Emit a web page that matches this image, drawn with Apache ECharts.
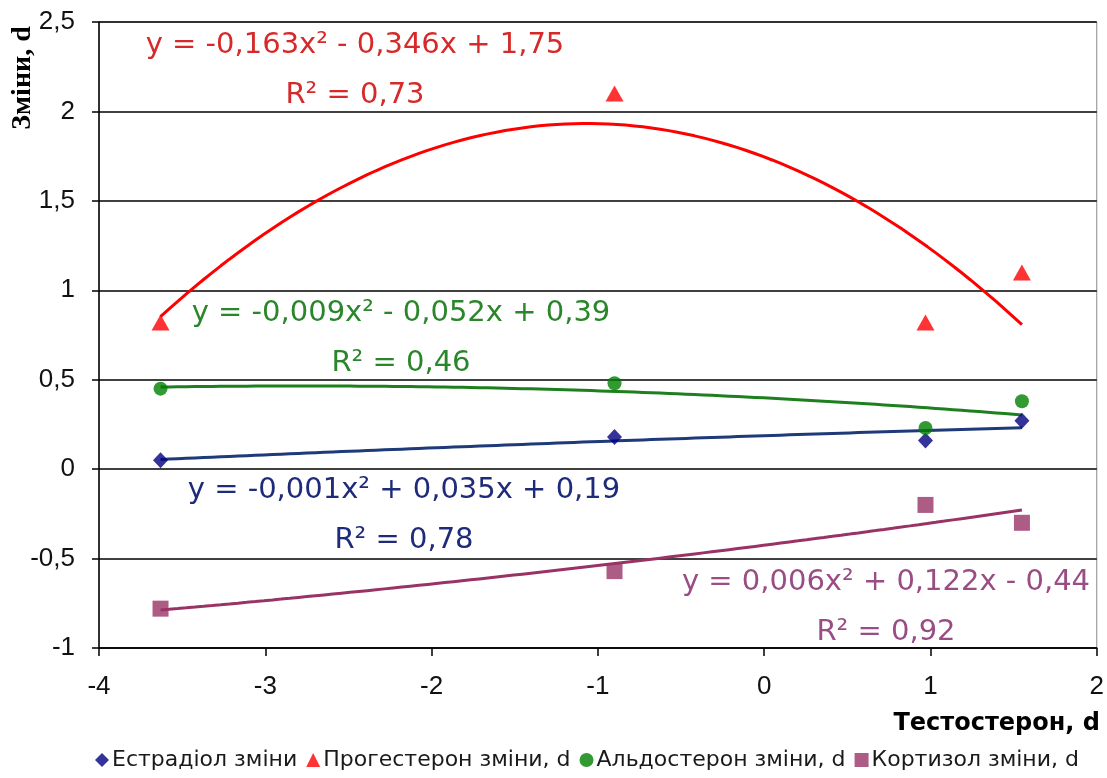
<!DOCTYPE html>
<html>
<head>
<meta charset="utf-8">
<script src="https://cdn.jsdelivr.net/npm/echarts@6/dist/echarts.min.js"></script>
<style>
html,body{margin:0;padding:0;background:#fff;}
#chart{width:1107px;height:778px;}
</style>
</head>
<body>
<div id="chart"></div>
<script>
// ---- data ----
const testosteron = [-3.63, -0.9, 0.97, 1.55];
const estradiol   = [0.05, 0.18, 0.16, 0.27];
const progesteron = [0.82, 2.1, 0.82, 1.1];
const aldosteron  = [0.45, 0.48, 0.23, 0.38];
const kortizol    = [-0.78, -0.57, -0.2, -0.3];

const seriesNames = ['Естрадіол зміни', 'Прогестерон зміни, d', 'Альдостерон зміни, d', 'Кортизол зміни, d'];
const equations = [
  ['y = -0,001x² + 0,035x + 0,19', 'R² = 0,78'],
  ['y = -0,163x² - 0,346x + 1,75', 'R² = 0,73'],
  ['y = -0,009x² - 0,052x + 0,39', 'R² = 0,46'],
  ['y = 0,006x² + 0,122x - 0,44', 'R² = 0,92']
];
const xAxisName = 'Тестостерон, d';
const yAxisName = 'Зміни, d';

// ---- least-squares quadratic fit (trend lines, as in the original) ----
function quadFit(xs, ys) {
  let n = xs.length, s1=0,s2=0,s3=0,s4=0,t0=0,t1=0,t2=0;
  for (let i=0;i<n;i++){const x=xs[i],y=ys[i];s1+=x;s2+=x*x;s3+=x*x*x;s4+=x*x*x*x;t0+=y;t1+=x*y;t2+=x*x*y;}
  const M=[[n,s1,s2,t0],[s1,s2,s3,t1],[s2,s3,s4,t2]];
  for (let c=0;c<3;c++){
    let p=c; for(let r=c+1;r<3;r++) if(Math.abs(M[r][c])>Math.abs(M[p][c])) p=r;
    [M[c],M[p]]=[M[p],M[c]];
    for(let r=0;r<3;r++){ if(r===c) continue; const f=M[r][c]/M[c][c]; for(let k=c;k<4;k++) M[r][k]-=f*M[c][k]; }
  }
  return [M[0][3]/M[0][0], M[1][3]/M[1][1], M[2][3]/M[2][2]]; // c, b, a
}
function trend(xs, ys) {
  const [c,b,a] = quadFit(xs, ys);
  const lo = Math.min(...xs), hi = Math.max(...xs), pts = [];
  const N = 100;
  for (let i=0;i<=N;i++){ const x = lo + (hi-lo)*i/N; pts.push([x, a*x*x + b*x + c]); }
  return pts;
}
const pairs = ys => testosteron.map((x,i)=>[x, ys[i]]);

const allY = [estradiol, progesteron, aldosteron, kortizol];
const markerColors = ['#000080', '#FF0000', '#008000', '#993366'];
const lineColors   = ['#1F3A78', '#FF0000', '#1E7F1E', '#993366'];
const textColors   = ['#1E2A7A', '#D62A2A', '#2A862A', '#9A4C84'];
const symbols = ['diamond', 'triangle', 'circle', 'rect'];
const symbolSizes = [[15,16], [18,16], 14, 16];

const fmt = v => String(v).replace('.', ',');

const series = [];
allY.forEach((ys, i) => {
  series.push({
    name: 'trend' + i, type: 'line', data: trend(testosteron, ys),
    showSymbol: false, smooth: false, silent: true,
    lineStyle: { color: lineColors[i], width: 3 }, z: 2
  });
});
allY.forEach((ys, i) => {
  series.push({
    name: seriesNames[i], type: 'scatter', data: pairs(ys),
    symbol: symbols[i], symbolSize: symbolSizes[i],
    itemStyle: { color: markerColors[i] }, z: 5
  });
});

// equation label layout (centre x, first-line centre y)
const eqPos = [[404, 490], [355, 45], [401, 313], [886, 582]];
const graphics = [];
equations.forEach((lines, i) => {
  lines.forEach((t, j) => {
    graphics.push({
      type: 'text', x: eqPos[i][0], y: eqPos[i][1] + j*50, z: 10,
      style: { text: t, fill: textColors[i], font: '29px "DejaVu Sans"', align: 'center', verticalAlign: 'middle' }
    });
  });
});
graphics.push({
  type: 'text', x: 23, y: 78, rotation: Math.PI/2, z: 10,
  style: { text: yAxisName, fill: '#000', font: 'bold 28px "Liberation Serif"', align: 'center', verticalAlign: 'middle' }
});
graphics.push({
  type: 'text', x: 1100, y: 724, z: 10,
  style: { text: xAxisName, fill: '#000', font: 'bold 24px "DejaVu Sans"', align: 'right', verticalAlign: 'middle' }
});

const chart = echarts.init(document.getElementById('chart'), null, { renderer: 'canvas' });
chart.setOption({
  animation: false,
  backgroundColor: '#fff',
  grid: { left: 99, right: 9, top: 22, bottom: 130, show: true, borderColor: '#8a8a8a', borderWidth: 1, backgroundColor: '#fff' },
  xAxis: {
    type: 'value', min: -4, max: 2, interval: 1,
    axisLine: { show: true, onZero: false, lineStyle: { color: '#000', width: 1.5 } },
    axisTick: { show: true, inside: false, length: 8, lineStyle: { color: '#000', width: 1.5 } },
    splitLine: { show: false },
    axisLabel: { formatter: fmt, fontSize: 26, fontFamily: 'Liberation Sans', color: '#111', margin: 26 }
  },
  yAxis: {
    type: 'value', min: -1, max: 2.5, interval: 0.5,
    axisLine: { show: true, onZero: false, lineStyle: { color: '#000', width: 1.5 } },
    axisTick: { show: true, inside: false, length: 7, lineStyle: { color: '#000', width: 1.5 } },
    splitLine: { show: true, lineStyle: { color: '#000', width: 1.5 } },
    axisLabel: { formatter: fmt, fontSize: 26, fontFamily: 'Liberation Sans', color: '#111', margin: 24 }
  },
  legend: {
    data: seriesNames.map((n, i) => ({ name: n, icon: symbols[i] })),
    left: 90, bottom: 2, itemWidth: 14, itemHeight: 14, itemGap: 9,
    textStyle: { fontSize: 22, fontFamily: 'DejaVu Sans', color: '#1a1a1a', padding: [0, 0, 0, -2] }
  },
  graphic: graphics,
  series: series
});
</script>
</body>
</html>
